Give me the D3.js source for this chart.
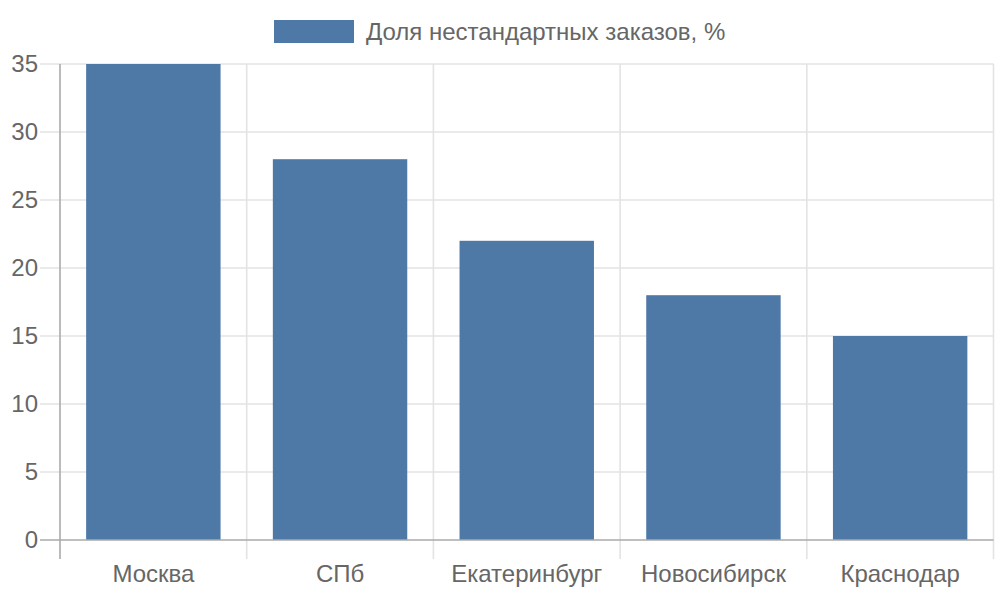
<!DOCTYPE html>
<html>
<head>
<meta charset="utf-8">
<script src="https://cdn.jsdelivr.net/npm/d3@7.9.0/dist/d3.min.js"></script>
<style>
  html, body { margin: 0; padding: 0; background: #fff; }
  svg text { font-family: "Liberation Sans", Arial, sans-serif; fill: #666; }
</style>
</head>
<body>
<svg id="chart" width="1000" height="600"></svg>
<script>
// data
const cities = ['Москва', 'СПб', 'Екатеринбург', 'Новосибирск', 'Краснодар'];
const shares = [35, 28, 22, 18, 15];
const yTicks = [0, 5, 10, 15, 20, 25, 30, 35];
const seriesLabel = 'Доля нестандартных заказов, %';

const barColor = '#4e79a7';
// plot area (window.top is reserved, so use other names)
const plotLeft = 60, plotRight = 993.5, plotTop = 64, plotBottom = 540;
const fontSize = 24;

const svg = d3.select('#chart');

const x = d3.scaleBand().domain(cities).range([plotLeft, plotRight]).padding(0);
const y = d3.scaleLinear().domain([0, 35]).range([plotBottom, plotTop]);

// horizontal grid
svg.append('g').selectAll('line')
  .data(yTicks.filter(t => t !== 0))
  .join('line')
  .attr('x1', plotLeft - 20).attr('x2', plotRight)
  .attr('y1', d => y(d)).attr('y2', d => y(d))
  .attr('stroke', '#e3e3e3').attr('stroke-width', 1.6);

// vertical grid at category edges
const edges = cities.map(c => x(c)).concat([plotRight]);
svg.append('g').selectAll('line')
  .data(edges.slice(1))
  .join('line')
  .attr('x1', d => d).attr('x2', d => d)
  .attr('y1', plotTop).attr('y2', plotBottom + 19)
  .attr('stroke', '#e3e3e3').attr('stroke-width', 1.6);

// bars
const barW = x.bandwidth() * 0.72;
svg.append('g').selectAll('rect')
  .data(cities)
  .join('rect')
  .attr('x', (d) => x(d) + (x.bandwidth() - barW) / 2)
  .attr('width', barW)
  .attr('y', (d, i) => y(shares[i]))
  .attr('height', (d, i) => y(0) - y(shares[i]))
  .attr('fill', barColor);

// axis lines
svg.append('line')
  .attr('x1', plotLeft).attr('x2', plotLeft)
  .attr('y1', plotTop).attr('y2', plotBottom + 19)
  .attr('stroke', '#aaa').attr('stroke-width', 1.6);
svg.append('line')
  .attr('x1', plotLeft - 20).attr('x2', plotRight)
  .attr('y1', plotBottom).attr('y2', plotBottom)
  .attr('stroke', '#aaa').attr('stroke-width', 1.6);

// y tick labels
svg.append('g').selectAll('text')
  .data(yTicks)
  .join('text')
  .attr('x', 38)
  .attr('y', d => y(d))
  .attr('dy', '0.35em')
  .attr('text-anchor', 'end')
  .attr('font-size', fontSize)
  .text(d => d);

// x tick labels
svg.append('g').selectAll('text')
  .data(cities)
  .join('text')
  .attr('x', d => x(d) + x.bandwidth() / 2)
  .attr('y', 582)
  .attr('text-anchor', 'middle')
  .attr('font-size', fontSize)
  .text(d => d);

// legend
const legend = svg.append('g');
legend.append('rect')
  .attr('x', 274).attr('y', 20)
  .attr('width', 80).attr('height', 23)
  .attr('fill', barColor);
legend.append('text')
  .attr('x', 366).attr('y', 40)
  .attr('font-size', fontSize)
  .text(seriesLabel);
</script>
</body>
</html>
